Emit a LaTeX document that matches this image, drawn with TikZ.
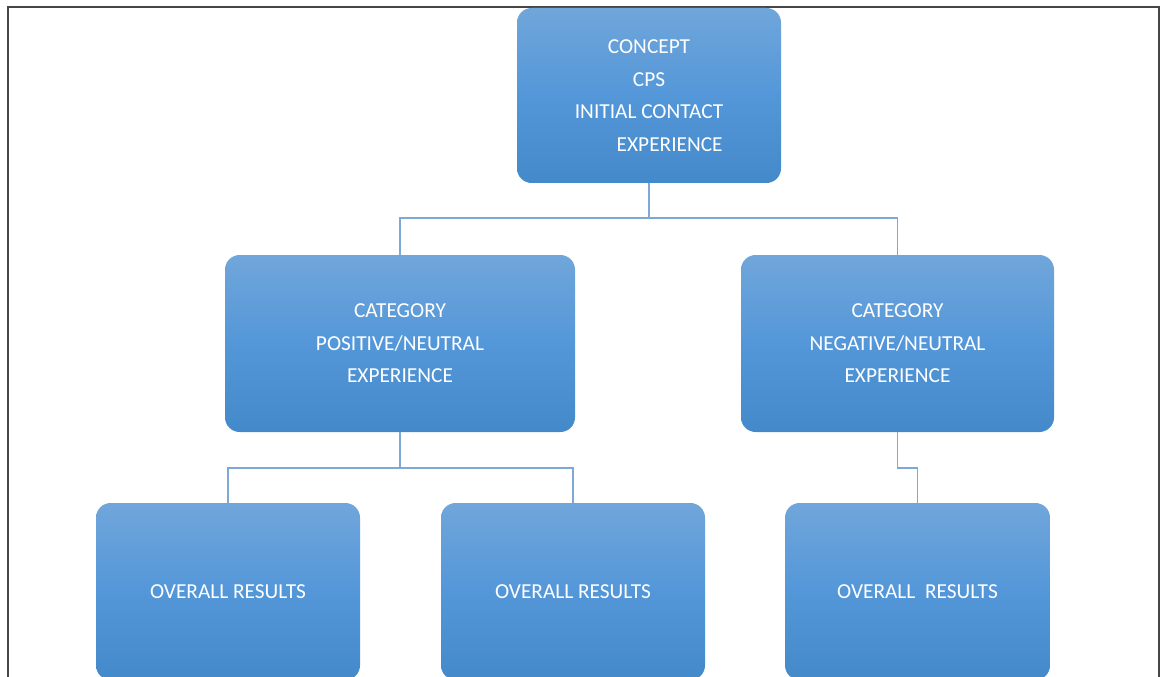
\documentclass[tikz,border=0pt]{standalone}
\usepackage{fontspec}
\setmainfont{Carlito}
\definecolor{boxtop}{RGB}{112,166,218}
\definecolor{boxmid}{RGB}{84,151,217}
\definecolor{boxbot}{RGB}{68,137,201}
\definecolor{connc}{RGB}{125,168,215}
\definecolor{framec}{RGB}{70,70,70}
\begin{document}
\begin{tikzpicture}[x=0.75pt,y=-0.75pt,
  box/.style={rectangle, rounded corners=11pt, top color=boxtop, bottom color=boxbot,
    middle color=boxmid,
    draw=none, text=white, align=center, inner sep=0pt,
    font=\fontsize{16}{24.4}\selectfont},
  conn/.style={draw=connc, line width=1.1pt}]
\useasboundingbox (0,0) rectangle (1162,677);
\fill[white] (0,0) rectangle (1162,677);
\draw[framec, line width=1.6pt] (8,677) -- (8,7) -- (1159,7) -- (1159,677);
\node[box, minimum width=264*0.75pt, minimum height=175*0.75pt] (top) at (649,95.5)
  {CONCEPT\\CPS\\INITIAL CONTACT\\\hspace*{31pt}EXPERIENCE};
\node[box, minimum width=350*0.75pt, minimum height=177*0.75pt] (ml) at (400,343.5)
  {CATEGORY\\POSITIVE/NEUTRAL\\EXPERIENCE};
\node[box, minimum width=313*0.75pt, minimum height=177*0.75pt] (mr) at (897.5,343.5)
  {CATEGORY\\NEGATIVE/NEUTRAL\\EXPERIENCE};
\node[box, minimum width=264*0.75pt, minimum height=177*0.75pt] (bl) at (228,591.5)
  {OVERALL RESULTS};
\node[box, minimum width=264*0.75pt, minimum height=177*0.75pt] (bm) at (573,591.5)
  {OVERALL RESULTS};
\node[box, minimum width=265*0.75pt, minimum height=177*0.75pt] (br) at (917.5,591.5)
  {OVERALL\ \ RESULTS};
\draw[conn] (top.south) -- (top.south |- 0,218) -| (ml.north);
\draw[conn] (top.south |- 0,218) -| (mr.north);
\draw[conn] (ml.south) -- (ml.south |- 0,468) -| (bl.north);
\draw[conn] (ml.south |- 0,468) -| (bm.north);
\draw[conn] (mr.south) -- (mr.south |- 0,468) -| (br.north);
\end{tikzpicture}
\end{document}
